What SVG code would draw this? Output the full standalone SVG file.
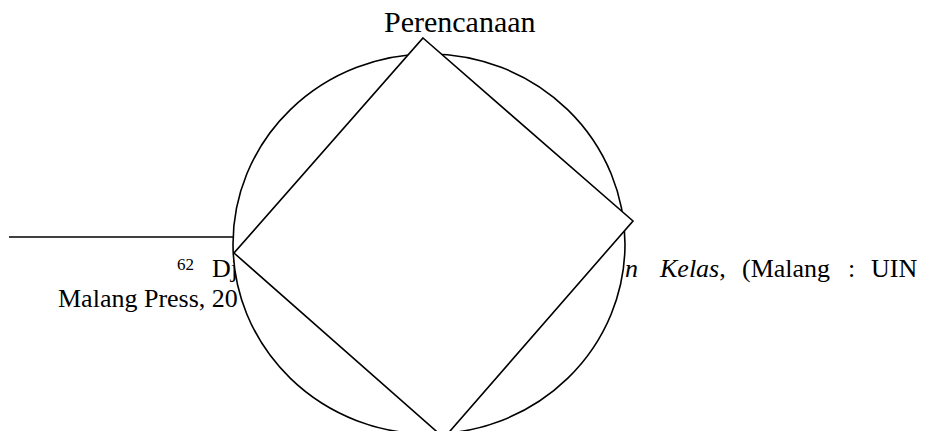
<svg xmlns="http://www.w3.org/2000/svg" width="929" height="431" viewBox="0 0 929 431">
<style>
.t{font-family:"Liberation Serif","Times New Roman",serif;fill:#000}
.s{fill:#fff;stroke:#000;stroke-width:1.6}
</style>
<rect width="929" height="431" fill="#fff"/>
<g id="footnote">
<line x1="9" y1="237" x2="233" y2="237" stroke="#000" stroke-width="1.6"/>
<text class="t" x="177" y="270" font-size="17">62</text>
<text class="t" x="212" y="277" font-size="26">Dj</text>
<text class="t" x="625" y="277" font-size="26"><tspan font-style="italic">n</tspan></text>
<text class="t" x="660" y="277" font-size="26"><tspan font-style="italic">Kelas</tspan>,</text>
<text class="t" x="742" y="277" font-size="26">(Malang</text>
<text class="t" x="848" y="277" font-size="26">:</text>
<text class="t" x="871" y="277" font-size="26">UIN</text>
<text class="t" x="58" y="307" font-size="26">Malang Press, 20</text>
</g>
<g id="cycle">
<ellipse class="s" cx="429" cy="244" rx="196" ry="190"/>
</g>
<g id="diamond">
<polygon class="s" points="423,38 633,221 444,438 234,253"/>
</g>
<g id="label-perencanaan">
<text class="t" x="384" y="32" font-size="30">Perencanaan</text>
</g>
</svg>
